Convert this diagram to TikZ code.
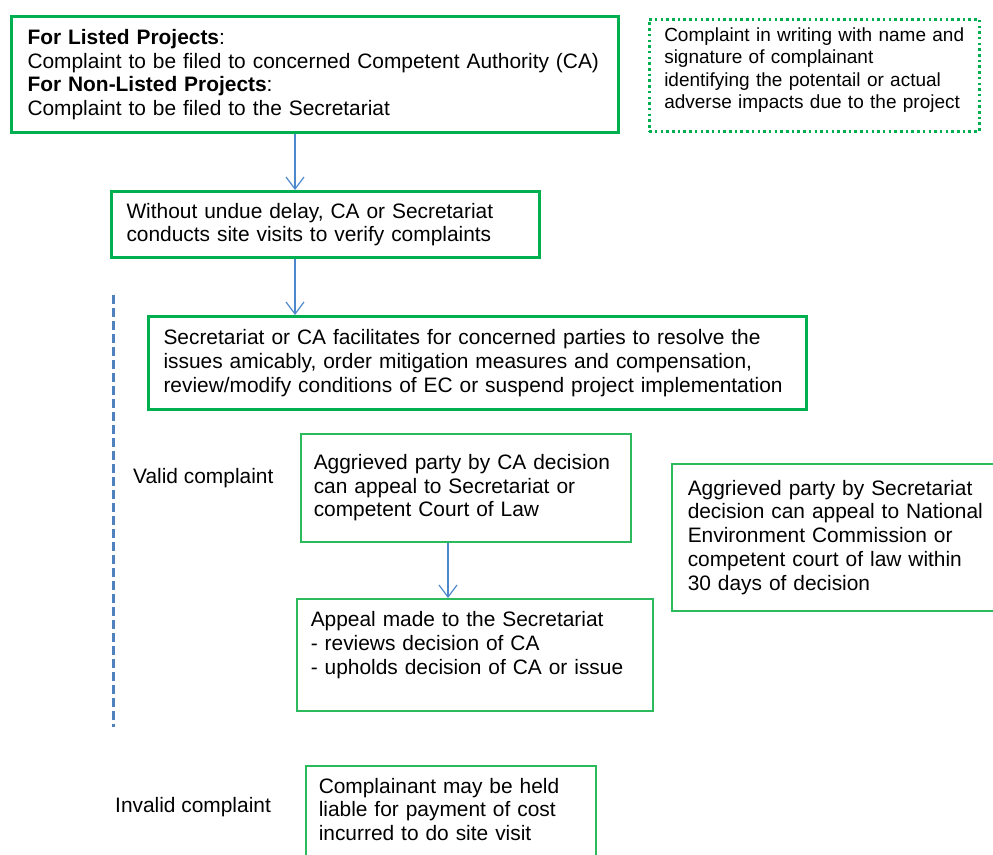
\documentclass[tikz,border=0pt]{standalone}
\usepackage{fontspec}
\setmainfont{Liberation Sans}
\usetikzlibrary{arrows.meta}
\definecolor{grn}{HTML}{00B050}
\definecolor{grnthin}{HTML}{2DBA5C}
\definecolor{arrblue}{HTML}{4D88CC}
\definecolor{dashblue}{HTML}{4F81BD}
\begin{document}
\begin{tikzpicture}[x=1pt,y=-1pt,
  txt/.style={font=\fontsize{20.9}{23.8}\selectfont, align=left, text=black},
  thickbox/.style={txt, draw=grn, line width=3pt, anchor=north west, inner xsep=16pt, inner ysep=0pt},
  thinbox/.style={txt, draw=grnthin, line width=1.5pt, anchor=north west, inner xsep=14pt, inner ysep=0pt},
  dotbox/.style={font=\fontsize{19}{22.5}\selectfont, align=left, text=black, draw=grn, line width=2.5pt,
     dash pattern=on 2.5pt off 3.2pt, anchor=north west, inner xsep=15pt, inner ysep=0pt},
  lbl/.style={txt, anchor=west, inner sep=0pt},
  arr/.style={draw=arrblue, line width=1.2pt, -{Straight Barb[length=12pt,width=18pt,line width=1.2pt]}},
  vdash/.style={draw=dashblue, line width=3pt, dash pattern=on 9pt off 4pt}
]
\path[use as bounding box] (0,0) rectangle (993,854);
\clip (0,0) rectangle (993,854);

\node[thickbox, minimum width=607pt, minimum height=116pt, text width=575pt] (b1) at (10,15)
 {\textbf{For Listed Projects}:\\
  Complaint to be filed to concerned Competent Authority (CA)\\
  \textbf{For Non-Listed Projects}:\\
  Complaint to be filed to the Secretariat};

\node[dotbox, minimum width=330pt, minimum height=112pt, text width=300pt] (note) at (648,18)
 {Complaint in writing with name and\\
  signature of complainant\\
  identifying the potentail or actual\\
  adverse impacts due to the project\\[-8pt]\mbox{}};

\node[thickbox, minimum width=428pt, minimum height=66pt, text width=398pt, inner xsep=15pt] (b2) at (110,190)
 {Without undue delay, CA or Secretariat\\
  conducts site visits to verify complaints};

\node[thickbox, minimum width=658pt, minimum height=93pt, text width=628pt, inner xsep=15pt] (b3) at (147,315)
 {Secretariat or CA facilitates for concerned parties to resolve the\\
  issues amicably, order mitigation measures and compensation,\\
  review/modify conditions of EC or suspend project implementation};

\node[thinbox, minimum width=330pt, minimum height=108pt, text width=304pt, inner xsep=13pt] (b4) at (300,433)
 {Aggrieved party by CA decision\\
  can appeal to Secretariat or\\
  competent Court of Law};

\node[thinbox, minimum width=356pt, minimum height=112pt, text width=328pt] (b5) at (296,598)
 {Appeal made to the Secretariat\\
  - reviews decision of CA\\
  - upholds decision of CA or issue\\
  \mbox{}};

\node[thinbox, minimum width=330pt, minimum height=147pt, text width=298pt, inner xsep=16pt] (b6) at (671,463)
 {Aggrieved party by Secretariat\\
  decision can appeal to National\\
  Environment Commission or\\
  competent court of law within\\
  30 days of decision};

\node[thinbox, minimum width=290pt, minimum height=111pt, text width=264pt, inner xsep=13pt] (b7) at (305,765)
 {Complainant may be held\\
  liable for payment of cost\\
  incurred to do site visit\\
  \mbox{}};

\node[lbl] (valid) at (133,478) {Valid complaint};
\node[lbl] (invalid) at (115,807) {Invalid complaint};

\coordinate (ax1) at (295,0);
\coordinate (ax2) at (448,0);
\draw[arr] (b1.south -| ax1) -- (b2.north -| ax1);
\draw[arr] (b2.south -| ax1) -- (b3.north -| ax1);
\draw[arr] (b4.south -| ax2) -- (b5.north -| ax2);

\coordinate (dtop) at (113,295);
\coordinate (dbot) at (113,727);
\draw[vdash] (dtop) -- (dbot);
\end{tikzpicture}
\end{document}
